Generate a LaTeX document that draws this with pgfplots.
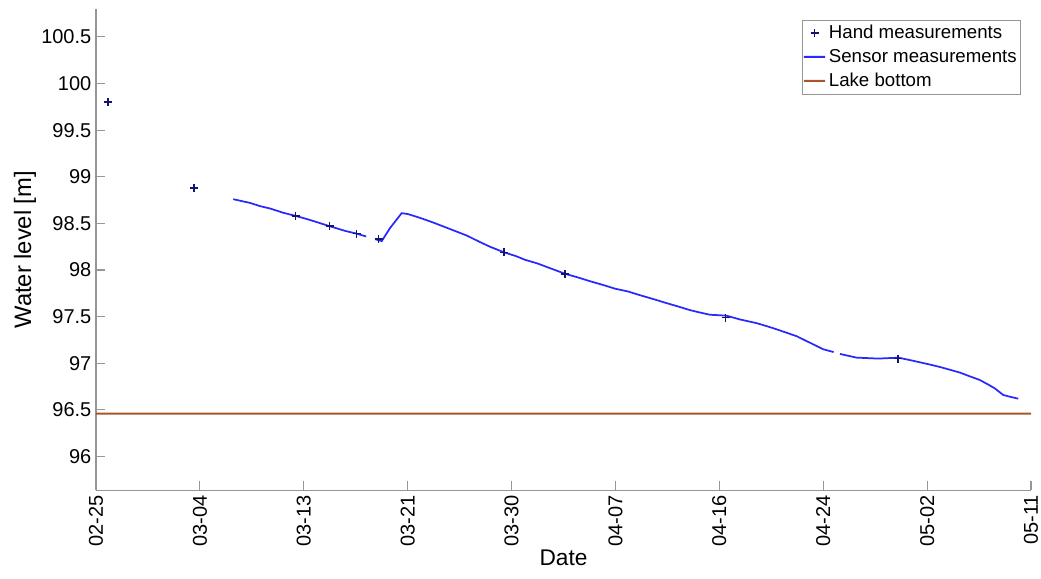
\documentclass[border=0pt]{standalone}
\usepackage{fontspec}
\setmainfont{Liberation Sans}
\usepackage{pgfplots}
\pgfplotsset{compat=1.18}
\definecolor{axgray}{RGB}{150,150,150}
\definecolor{handc}{RGB}{20,20,110}
\definecolor{sensc}{RGB}{40,40,255}
\definecolor{lakebrown}{RGB}{170,85,40}
\begin{document}
\begin{tikzpicture}
\begin{axis}[
  scale only axis,
  width=701pt, height=361pt,
  xmin=0, xmax=9,
  ymin=95.635, ymax=100.8,
  axis x line*=bottom, axis y line*=left,
  axis line style={axgray, line width=0.8pt},
  every tick/.style={axgray, line width=0.8pt},
  tick align=inside,
  major tick length=6.75pt,
  xtick={0,1,2,3,4,5,6,7,8,9},
  xticklabels={02-25,03-04,03-13,03-21,03-30,04-07,04-16,04-24,05-02,05-11},
  x tick label style={rotate=90, anchor=east, xshift=0pt},
  ytick={96,96.5,97,97.5,98,98.5,99,99.5,100,100.5},
  yticklabels={96,96.5,97,97.5,98,98.5,99,99.5,100,100.5},
  tick label style={font=\fontsize{15}{18}\selectfont},
  /pgf/number format/assume math mode=true,
  xlabel={Date}, ylabel={Water level [m]},
  xlabel style={font=\fontsize{17}{20}\selectfont, yshift=4pt},
  ylabel style={font=\fontsize{17.8}{20}\selectfont, yshift=-3pt},
  legend cell align=left,
  legend style={at={(0.9886,0.978)}, anchor=north east,
    draw=axgray, font=\fontsize{14}{16}\selectfont,
    inner xsep=0.5pt, inner ysep=2pt, row sep=2.5pt},
  legend image code/.code={\draw[#1, line width=1.5pt] (0pt,0pt) -- (16pt,0.01pt);},
]
% Hand measurements
\addplot[only marks, mark=+, mark size=3pt, color=handc, line width=1.2pt,
  legend image code/.code={\draw[##1] plot coordinates {(8pt,0pt)};}]
  table {
x y
0.115 99.80
0.945 98.88
1.922 98.58
2.249 98.47
2.509 98.39
2.720 98.33
3.927 98.19
4.514 97.96
6.060 97.49
7.722 97.05
};
\addlegendentry{Hand measurements}
% Sensor measurements (segments separated by gaps)
\addplot[color=sensc, line width=1.3pt, mark=none]
  table {
x y
1.321 98.76
1.400 98.74
1.482 98.72
1.580 98.685
1.675 98.66
1.800 98.615
1.922 98.58
2.020 98.55
2.108 98.52
2.249 98.47
2.397 98.42
2.509 98.39
2.600 98.36
};
\addlegendentry{Sensor measurements}
% Lake bottom
\addplot[color=lakebrown, line width=1.5pt, mark=none]
  coordinates {(0,96.46) (9,96.4601)};
\addlegendentry{Lake bottom}
\addplot[color=sensc, line width=1.3pt, mark=none, forget plot]
  table {
x y
2.690 98.33
2.750 98.31
2.830 98.45
2.942 98.61
3.003 98.60
3.118 98.56
3.244 98.51
3.407 98.44
3.568 98.37
3.696 98.30
3.792 98.25
3.927 98.19
4.040 98.15
4.129 98.11
4.250 98.07
4.370 98.02
4.514 97.96
4.640 97.92
4.755 97.88
4.880 97.84
4.995 97.80
5.120 97.77
5.236 97.73
5.360 97.69
5.477 97.65
5.600 97.61
5.717 97.57
5.810 97.545
5.910 97.52
6.000 97.515
6.070 97.51
6.198 97.47
6.359 97.43
6.450 97.40
6.535 97.37
6.640 97.33
6.744 97.29
6.872 97.22
7.000 97.15
7.100 97.12
};
\addplot[color=sensc, line width=1.3pt, mark=none, forget plot]
  table {
x y
7.161 97.10
7.240 97.08
7.322 97.06
7.430 97.055
7.527 97.05
7.630 97.055
7.722 97.06
7.830 97.035
7.931 97.01
8.030 96.985
8.123 96.96
8.220 96.93
8.315 96.90
8.410 96.86
8.508 96.82
8.590 96.77
8.652 96.73
8.732 96.66
8.800 96.64
8.877 96.62
};
\end{axis}
\pgfresetboundingbox
\path (current axis.south west) ++(-72pt,-66pt) coordinate (bbA);
\path (current axis.north east) ++(7.5pt,6.75pt) coordinate (bbB);
\path[use as bounding box] (bbA) rectangle (bbB);
\end{tikzpicture}
\end{document}
